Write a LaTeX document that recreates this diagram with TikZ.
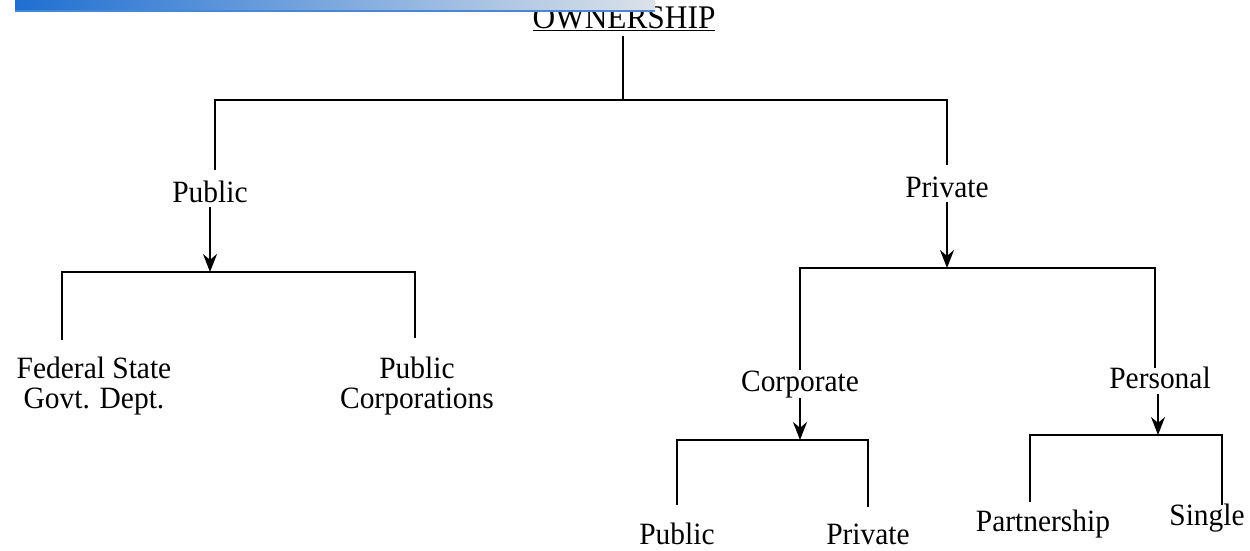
\documentclass[tikz,border=0pt]{standalone}
\usepackage{fontspec}
\setmainfont{Liberation Serif}[FakeStretch=0.95]
\usetikzlibrary{arrows.meta}
\definecolor{barL}{HTML}{1E6FD2}
\definecolor{barR}{HTML}{DCE2E9}
\definecolor{barE}{HTML}{4A86D4}
\begin{document}
\begin{tikzpicture}[x=1pt,y=-1pt,
  lbl/.style={inner sep=0pt,anchor=base,font=\fontsize{31}{30}\selectfont},
  ln/.style={line width=1.8pt},
  arr/.style={line width=1.8pt,-{Stealth[length=18pt,width=14pt]}}]
\useasboundingbox (0,0) rectangle (1250,550);
% nodes
\node[lbl,font=\fontsize{33}{30}\selectfont] (own) at (624,28) {\underline{OWNERSHIP}};
\node[lbl] (pub) at (210,202) {Public};
\node[lbl] (priv) at (947,197) {Private};
\node[lbl,align=center] (fed) at (94,408) {Federal State\\Govt. Dept.};
\node[lbl,align=center] (pubc) at (417,408) {Public\\Corporations};
\node[lbl] (corp) at (800,391) {Corporate};
\node[lbl] (pers) at (1160,388) {Personal};
\node[lbl] (cpub) at (677,544) {Public};
\node[lbl] (cpriv) at (868,544) {Private};
\node[lbl] (part) at (1043,531) {Partnership};
\node[lbl] (sing) at (1207,525) {Single};
% header bar (drawn over the title, as in the reference)
\shade[left color=barL,right color=barR] (15,0) rectangle (655,10);
\fill[barE] (15,10) rectangle (655,12);
% coordinates
\coordinate (o1) at (623,36);
\coordinate (o2) at (623,100);
\coordinate (pubtop) at (215,170);
\coordinate (privtop) at (947,165);
\coordinate (pubbar) at (210,272);
\coordinate (fedtop) at (62,340);
\coordinate (pubctop) at (415,338);
\coordinate (privbar) at (947,268);
\coordinate (corptop) at (800,370);
\coordinate (perstop) at (1155,368);
\coordinate (corpbar) at (800,440);
\coordinate (cpubtop) at (677,505);
\coordinate (cprivtop) at (868,507);
\coordinate (persbar) at (1158,435);
\coordinate (parttop) at (1030,502);
\coordinate (singtop) at (1222,505);
% connectors
\draw[ln] (o1) -- (o2);
\draw[ln] (pubtop) |- (o2) -| (privtop);
\draw[arr] (210,207) -- (pubbar);
\draw[ln] (fedtop) |- (pubbar) -| (pubctop);
\draw[arr] (947,202) -- (privbar);
\draw[ln] (corptop) |- (privbar) -| (perstop);
\draw[arr] (800,398) -- (corpbar);
\draw[ln] (cpubtop) |- (corpbar) -| (cprivtop);
\draw[arr] (1158,394) -- (persbar);
\draw[ln] (parttop) |- (persbar) -| (singtop);
\end{tikzpicture}
\end{document}
